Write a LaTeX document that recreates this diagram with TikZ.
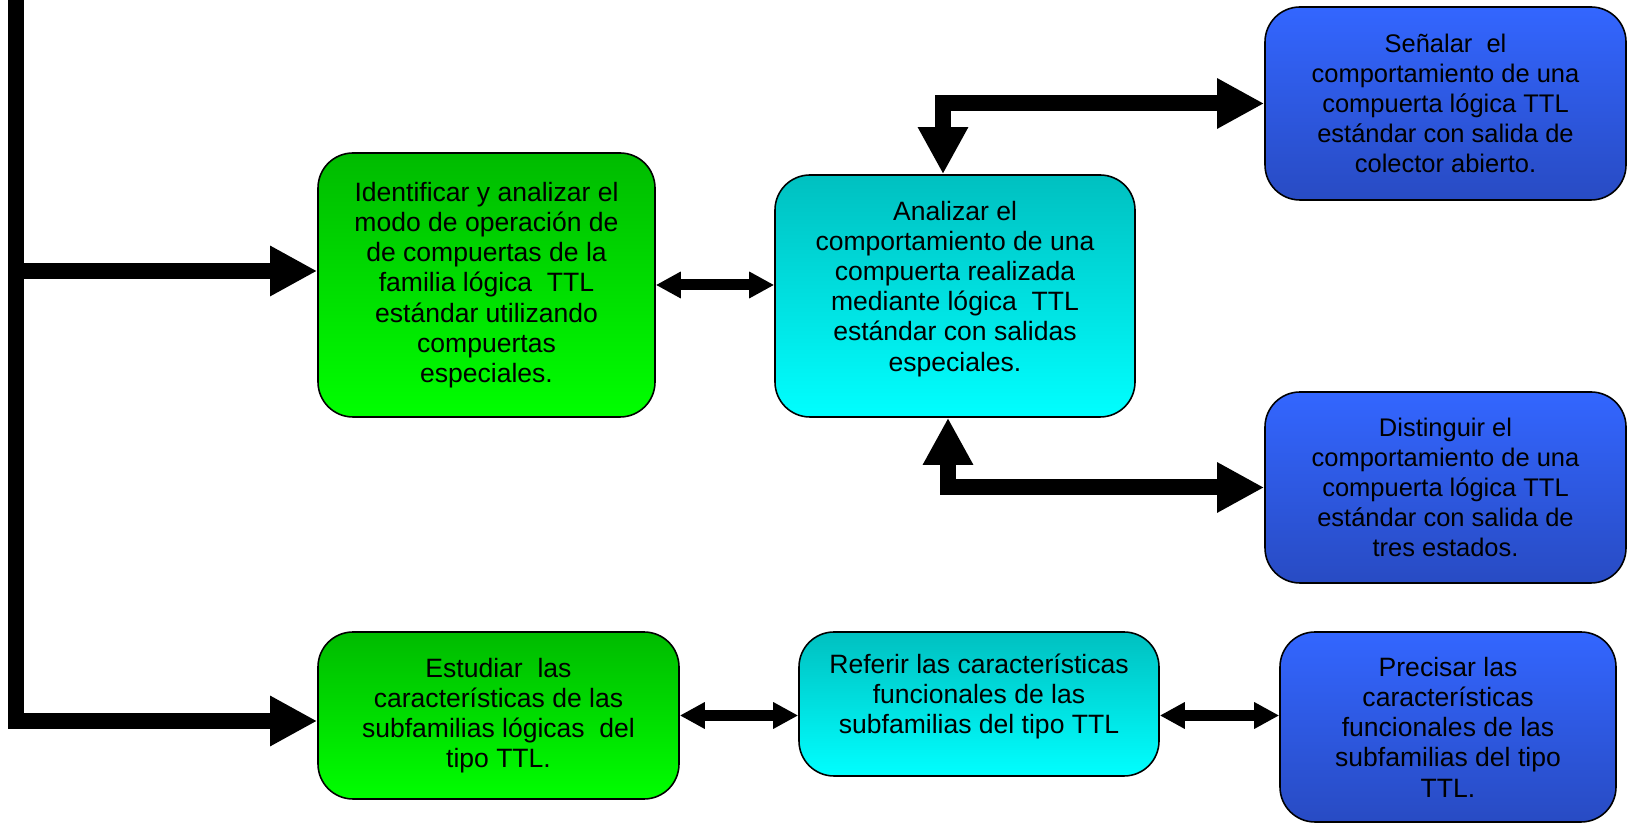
\documentclass[tikz,border=0pt]{standalone}
\usepackage{fontspec}
\setmainfont{Liberation Sans}
\usepackage{tikz}
\usetikzlibrary{arrows.meta,positioning}

\definecolor{greentop}{RGB}{0,187,0}
\definecolor{greenbot}{RGB}{0,255,0}
\definecolor{cyantop}{RGB}{0,192,192}
\definecolor{cyanbot}{RGB}{0,255,255}
\definecolor{bluetop}{RGB}{51,102,255}
\definecolor{bluebot}{RGB}{40,75,195}

\begin{document}
\begin{tikzpicture}[every node/.style={draw, rectangle, rounded corners=0.35cm, line width=0.45pt, align=center,
		font=\fontsize{7.55pt}{8.6pt}\selectfont, inner sep=0pt},
		greenbox/.style={top color=greentop, bottom color=greenbot},
		cyanbox/.style={top color=cyantop, bottom color=cyanbot, text depth=0.2cm},
		bluebox/.style={top color=bluetop, bottom color=bluebot},
		smalltext/.style={font=\fontsize{7.25pt}{8.55pt}\selectfont},
		fatarrow/.style={line width=0.16cm, -{Triangle[length=0.47cm, width=0.47cm]}},
		fatboth/.style={line width=0.16cm, {Triangle[length=0.47cm, width=0.47cm]}-{Triangle[length=0.47cm, width=0.47cm]}},
		thinboth/.style={line width=0.11cm, {Triangle[length=0.25cm, width=0.25cm]}-{Triangle[length=0.25cm, width=0.25cm]}}]
		\useasboundingbox (0,0) rectangle (16.28,8.23);
		
		\node[greenbox, minimum width=3.37cm, minimum height=2.64cm] (ident) at (4.865,5.38) {Identificar y analizar el\\ modo de operación de\\ de compuertas de la\\ familia lógica~ TTL\\ estándar utilizando\\ compuertas\\ especiales.};
		\node[cyanbox, minimum width=3.60cm, minimum height=2.42cm] (anal) at (9.55,5.27) {Analizar el\\ comportamiento de una\\ compuerta realizada\\ mediante lógica~ TTL\\ estándar con salidas\\ especiales.};
		
		\node[bluebox, smalltext, minimum width=3.61cm, minimum height=1.93cm] (senal) at (14.455,7.195) {Señalar~ el\\ comportamiento de una\\ compuerta lógica TTL\\ estándar con salida de\\ colector abierto.};
		\node[bluebox, smalltext, minimum width=3.61cm, minimum height=1.91cm] (disting) at (14.455,3.355) {Distinguir el\\ comportamiento de una\\ compuerta lógica TTL\\ estándar con salida de\\ tres estados.};
		
		\node[greenbox, minimum width=3.61cm, minimum height=1.67cm] (estud) at (4.985,1.075) {Estudiar~ las\\ características de las\\ subfamilias lógicas~ del\\ tipo TTL.};
		\node[cyanbox, minimum width=3.60cm, minimum height=1.44cm] (refer) at (9.79,1.19) {Referir las características\\ funcionales de las\\ subfamilias del tipo TTL};
		\node[bluebox, minimum width=3.36cm, minimum height=1.90cm] (precis) at (14.48,0.96) {Precisar las\\ características\\ funcionales de las\\ subfamilias del tipo\\ TTL.};
		
		\coordinate (top) at (0.16,8.3);
		\coordinate (branch) at (0.16,5.52);
		\coordinate (trunkbot) at (0.16,1.02);
		
		% Draw edges
		\draw[fatarrow] (top) -- (trunkbot) -- (trunkbot -| estud.west);
		\draw[fatarrow] (branch) -- (branch -| ident.west);
		
		\draw[thinboth] (ident.east) -- (ident.east -| anal.west);
		\draw[fatboth] ([xshift=-1.2mm]anal.north) |- (senal.west);
		\draw[fatboth] ([xshift=-0.7mm]anal.south) |- (disting.west);
		
		\draw[thinboth] (estud.east) -- (estud.east -| refer.west);
		\draw[thinboth] (estud.east -| refer.east) -- (estud.east -| precis.west);
	\end{tikzpicture}
\end{document}
